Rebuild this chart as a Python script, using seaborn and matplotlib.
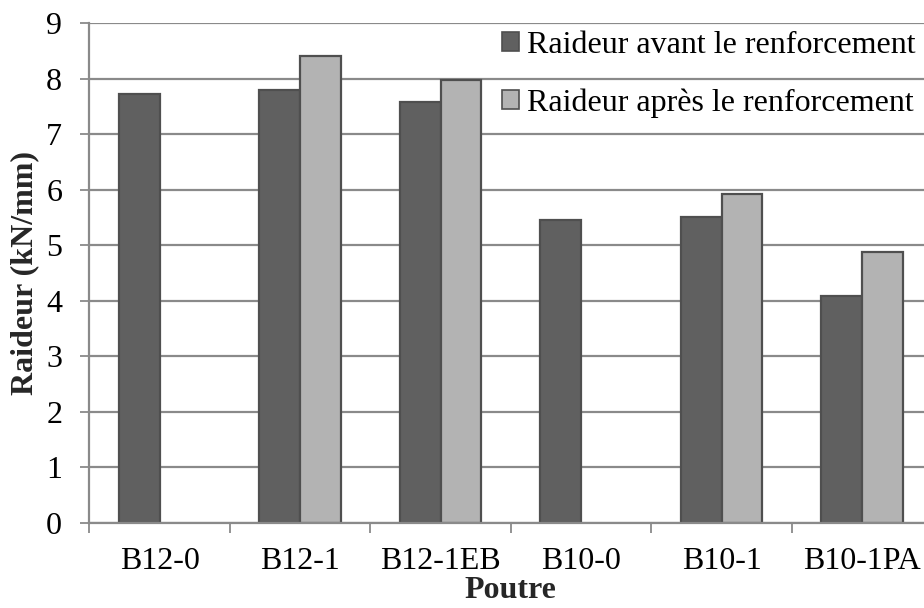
import numpy as np
import pandas as pd
import matplotlib
matplotlib.use("Agg")
import matplotlib.pyplot as plt
from matplotlib.patches import Patch
from matplotlib.ticker import FixedLocator
import seaborn as sns

# Stiffness of each beam before and after strengthening (kN/mm)
poutres = ["B12-0", "B12-1", "B12-1EB", "B10-0", "B10-1", "B10-1PA"]
raideur_avant = [7.73, 7.80, 7.57, 5.46, 5.51, 4.08]
raideur_apres = [np.nan, 8.40, 7.97, np.nan, 5.92, 4.87]
series = ["Raideur avant le renforcement", "Raideur après le renforcement"]
y_ticks = [0, 1, 2, 3, 4, 5, 6, 7, 8, 9]

df = pd.DataFrame({
    "Poutre": poutres * 2,
    "Raideur": raideur_avant + raideur_apres,
    "Série": [series[0]] * len(poutres) + [series[1]] * len(poutres),
})

sns.set_theme(style="white")
plt.rcParams["font.family"] = ["Liberation Serif", "DejaVu Serif"]
plt.rcParams["text.color"] = "black"

W, H = 924, 608
fig = plt.figure(figsize=(W / 100, H / 100), dpi=100)
fig.patch.set_facecolor("white")

# plot area: left edge at x=89, x-axis at y=523, 140.5 px per category
left, bottom, top = 89.3, 523.0, 23.0
ax = fig.add_axes([left / W, (H - bottom) / H, 6 * 140.5 / W, (bottom - top) / H])

dark, light, edge, grid = "#606060", "#b3b3b3", "#4f4f4f", "#8a8a8a"

sns.barplot(data=df, x="Poutre", y="Raideur", hue="Série", order=poutres,
            hue_order=series, palette=[dark, light], saturation=1,
            width=0.58, dodge=True, edgecolor=edge, linewidth=1.6,
            legend=False, ax=ax)

ax.set_xlim(-0.5, len(poutres) - 0.5)
ax.set_ylim(0, 9)
ax.set_yticks(y_ticks)
ax.set_axisbelow(True)
ax.yaxis.grid(True, color=grid, linewidth=1.6)
ax.xaxis.grid(False)

for s in ["top", "right"]:
    ax.spines[s].set_visible(False)
for s in ["left", "bottom"]:
    ax.spines[s].set_color(grid)
    ax.spines[s].set_linewidth(1.6)

fs = 23
ax.tick_params(axis="y", which="major", direction="out", length=6.5, width=1.3,
               color=grid, pad=13, labelsize=fs, left=True)
ax.tick_params(axis="x", which="major", length=0, pad=17, labelsize=fs)
ax.xaxis.set_minor_locator(FixedLocator(np.arange(-0.5, len(poutres), 1.0)))
ax.tick_params(axis="x", which="minor", direction="out", length=7, width=1.3,
               color=grid, bottom=True)
for lab in ax.get_xticklabels() + ax.get_yticklabels():
    lab.set_color("black")

ax.set_xlabel("Poutre", fontsize=fs, fontweight="bold")
ax.xaxis.set_label_coords(0.5, (bottom - 591) / (bottom - top))
ax.xaxis.label.set_va("center")
ax.set_ylabel("Raideur (kN/mm)", fontsize=fs, fontweight="bold")
ax.yaxis.set_label_coords((25 - left) / (6 * 140.5), 0.5)
ax.yaxis.label.set_va("center")

handles = [Patch(facecolor=dark, edgecolor=edge, linewidth=1.2),
           Patch(facecolor=light, edgecolor=edge, linewidth=1.2)]
ax.legend(handles, series, loc="upper left",
          bbox_to_anchor=(501.5 / W, 1 - 31 / H), bbox_transform=fig.transFigure,
          frameon=False, fontsize=fs, handlelength=0.55, handleheight=0.55,
          handletextpad=0.25, labelspacing=0.88, borderpad=0, borderaxespad=0)

fig.savefig("out.png", dpi=100, facecolor="white")
